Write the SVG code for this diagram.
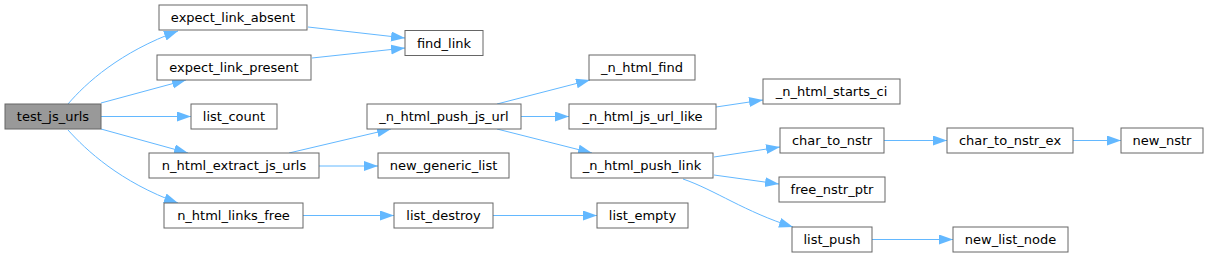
<svg xmlns="http://www.w3.org/2000/svg" width="1208" height="257" viewBox="0 0 1208 257">
<style>
.n rect{fill:#ffffff;stroke:#666666;stroke-width:1}
.n.root rect{fill:#999999}
.n text{font-family:"DejaVu Sans",sans-serif;font-size:13px;fill:#000000;text-anchor:middle}
.e path{fill:none;stroke:#63b8ff;stroke-width:1}
</style>
<defs>
<marker id="ah" markerUnits="userSpaceOnUse" markerWidth="16" markerHeight="12" refX="14" refY="5" orient="auto">
<path d="M0,0 L14,5 L0,10 z" fill="#63b8ff" stroke="none"/>
</marker>
</defs>
<rect width="1208" height="257" fill="#ffffff"/>
<g id="connectors" class="e">
<path d="M68,104 C86,83 120,52 178,31" marker-end="url(#ah)"/>
<path d="M101,103 L186,80" marker-end="url(#ah)"/>
<path d="M101,116.5 L191,116.5" marker-end="url(#ah)"/>
<path d="M101,129 L188,153" marker-end="url(#ah)"/>
<path d="M68,130 C86,150 120,182 178,203" marker-end="url(#ah)"/>
<path d="M308,27 L405,38" marker-end="url(#ah)"/>
<path d="M312,58 L405,48" marker-end="url(#ah)"/>
<path d="M289,153 L391,129" marker-end="url(#ah)"/>
<path d="M319,166 L378,166" marker-end="url(#ah)"/>
<path d="M303,215.5 L394,215.5" marker-end="url(#ah)"/>
<path d="M493,215.5 L597,215.5" marker-end="url(#ah)"/>
<path d="M497,104 L590,80" marker-end="url(#ah)"/>
<path d="M521,116.5 L569,116.5" marker-end="url(#ah)"/>
<path d="M497,129 L592,153" marker-end="url(#ah)"/>
<path d="M716,107 L763,100" marker-end="url(#ah)"/>
<path d="M714,157 L780,147" marker-end="url(#ah)"/>
<path d="M714,175 L779,184" marker-end="url(#ah)"/>
<path d="M683,179 C715,190 745,212 793,227" marker-end="url(#ah)"/>
<path d="M884,140.5 L947,140.5" marker-end="url(#ah)"/>
<path d="M1073,140.5 L1121,140.5" marker-end="url(#ah)"/>
<path d="M872,239.5 L953,239.5" marker-end="url(#ah)"/>
</g>
<g id="test_js_urls" class="n root"><rect x="5" y="104" width="96" height="25"/><text x="53" y="121">test_js_urls</text></g>
<g id="expect_link_absent" class="n"><rect x="159" y="5" width="148" height="25"/><text x="233" y="22">expect_link_absent</text></g>
<g id="expect_link_present" class="n"><rect x="157" y="55" width="154" height="25"/><text x="234" y="72">expect_link_present</text></g>
<g id="list_count" class="n"><rect x="191" y="104" width="86" height="25"/><text x="234" y="121">list_count</text></g>
<g id="n_html_extract_js_urls" class="n"><rect x="149" y="153" width="170" height="25"/><text x="234" y="170">n_html_extract_js_urls</text></g>
<g id="n_html_links_free" class="n"><rect x="164" y="203" width="139" height="25"/><text x="233.5" y="220">n_html_links_free</text></g>
<g id="find_link" class="n"><rect x="405" y="30.5" width="78" height="25"/><text x="444" y="47.5">find_link</text></g>
<g id="_n_html_push_js_url" class="n"><rect x="367" y="104" width="154" height="25"/><text x="444" y="121">_n_html_push_js_url</text></g>
<g id="new_generic_list" class="n"><rect x="378" y="153" width="131" height="25"/><text x="443.5" y="170">new_generic_list</text></g>
<g id="list_destroy" class="n"><rect x="394" y="203" width="99" height="25"/><text x="443.5" y="220">list_destroy</text></g>
<g id="_n_html_find" class="n"><rect x="589" y="55" width="106" height="25"/><text x="642" y="72">_n_html_find</text></g>
<g id="_n_html_js_url_like" class="n"><rect x="569" y="104" width="147" height="25"/><text x="642.5" y="121">_n_html_js_url_like</text></g>
<g id="_n_html_push_link" class="n"><rect x="571" y="153" width="142" height="25"/><text x="642" y="170">_n_html_push_link</text></g>
<g id="list_empty" class="n"><rect x="597" y="203" width="91" height="25"/><text x="642.5" y="220">list_empty</text></g>
<g id="_n_html_starts_ci" class="n"><rect x="763" y="79" width="137" height="25"/><text x="831.5" y="96">_n_html_starts_ci</text></g>
<g id="char_to_nstr" class="n"><rect x="780" y="128" width="104" height="25"/><text x="832" y="145">char_to_nstr</text></g>
<g id="free_nstr_ptr" class="n"><rect x="779" y="177" width="106" height="25"/><text x="832" y="194">free_nstr_ptr</text></g>
<g id="list_push" class="n"><rect x="792" y="227" width="80" height="25"/><text x="832" y="244">list_push</text></g>
<g id="char_to_nstr_ex" class="n"><rect x="947" y="128" width="126" height="25"/><text x="1010" y="145">char_to_nstr_ex</text></g>
<g id="new_list_node" class="n"><rect x="953" y="227" width="115" height="25"/><text x="1010.5" y="244">new_list_node</text></g>
<g id="new_nstr" class="n"><rect x="1121" y="128" width="82" height="25"/><text x="1162" y="145">new_nstr</text></g>
</svg>
